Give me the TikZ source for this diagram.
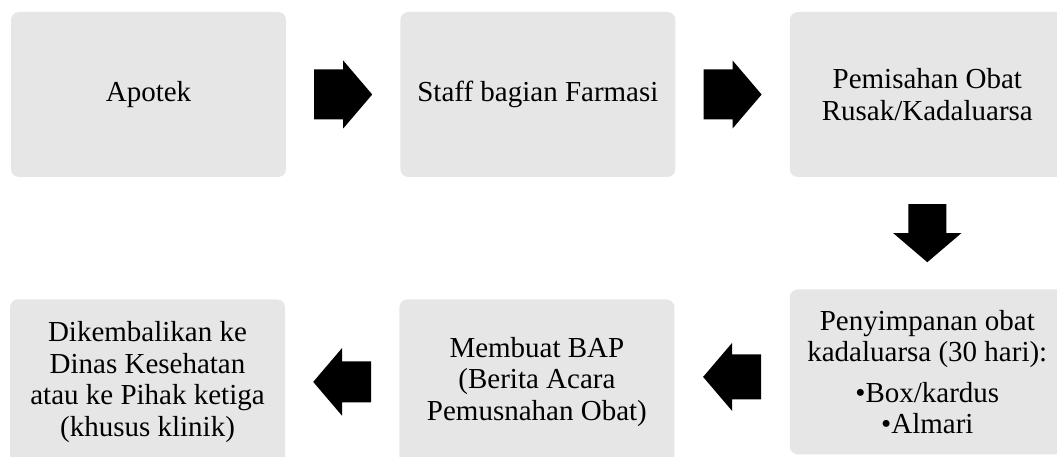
\documentclass[tikz,border=0pt]{standalone}
\usepackage{fontspec}
\setmainfont{Liberation Serif}
\usetikzlibrary{calc,positioning}
\definecolor{BoxGray}{HTML}{E7E6E6}

\tikzset{
  pics/blockarrow/.style={code={
    \fill[black] (-29,-#1) -- (0,-#1) -- (0,-34) -- (29,0) -- (0,34) -- (0,#1) -- (-29,#1) -- cycle;}}
}

\begin{document}
\begin{tikzpicture}[x=1pt,y=-1pt,node distance=114pt,
    box/.style={rounded corners=8pt,fill=BoxGray,minimum width=275pt,minimum height=165pt,
                inner sep=0pt,align=center,font=\fontsize{29}{31.5}\selectfont}]
  \useasboundingbox (0,0) rectangle (1057,457);
  \clip (0,0) rectangle (1057,457);
  \node[box] (apotek) at (148.5,94.5) {Apotek};
  \node[box,right=of apotek] (staff) {Staff bagian Farmasi};
  \node[box,right=of staff] (pisah) {Pemisahan Obat\\Rusak/Kadaluarsa};
  \node[box,below=112pt of pisah] (simpan) {Penyimpanan obat\\kadaluarsa (30 hari):\\[9pt]
        \textbullet Box/kardus\\\textbullet Almari};
  \node[box,left=115pt of simpan,yshift=-10pt] (bap) {Membuat BAP\\(Berita Acara\\Pemusnahan Obat)};
  \node[box,left=of bap] (kembali) {Dikembalikan ke\\Dinas Kesehatan\\atau ke Pihak ketiga\\(khusus klinik)};
  % block arrows between the steps
  \foreach \s/\t/\e/\r [count=\i] in {apotek.east/staff.west/25/0,staff.east/pisah.west/25/0,
      pisah.south/simpan.north/19/270,simpan.west/bap.east/22.5/180,bap.west/kembali.east/20.5/180}{
    \coordinate (arrow\i) at ($(\s)!0.5!(\t)$);
    \pic[rotate=\r] at (arrow\i) {blockarrow=\e};
  }
\end{tikzpicture}
\end{document}
